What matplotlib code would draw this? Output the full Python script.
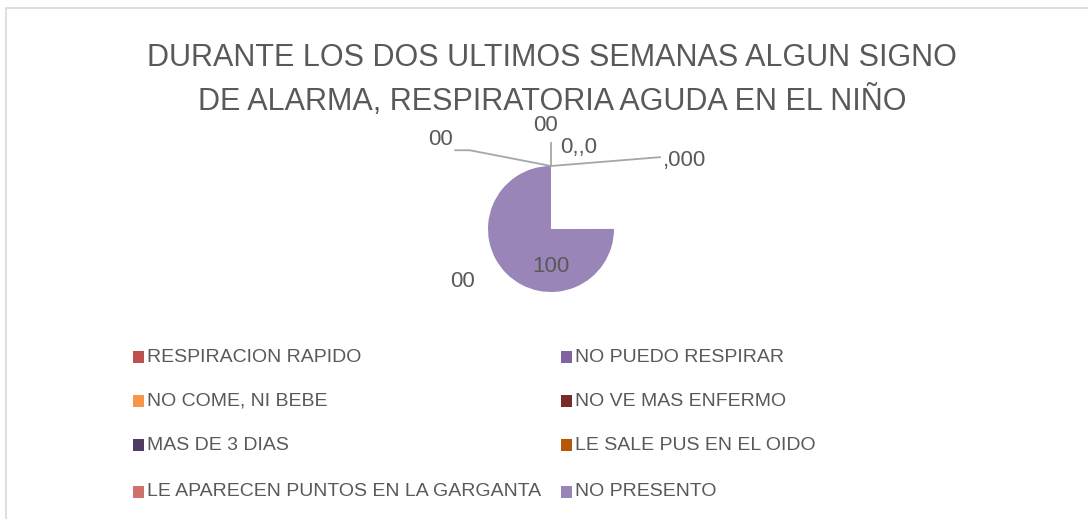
import matplotlib.pyplot as plt
from matplotlib.patches import Rectangle

# datos del grafico
categorias = ['RESPIRACION RAPIDO', 'NO PUEDO RESPIRAR', 'NO COME, NI BEBE',
              'NO VE MAS ENFERMO', 'MAS DE 3 DIAS', 'LE SALE PUS EN EL OIDO',
              'LE APARECEN PUNTOS EN LA GARGANTA', 'NO PRESENTO']
valores = [0, 0, 0, 0, 0, 0, 0, 100]
colores = ['#C0504D', '#8064A2', '#F79646', '#772C2A', '#4D3B62', '#B65708',
           '#D0716E', '#9A85B8']
hueco = 33.3  # parte sin relleno que deja Excel arriba a la derecha
etiquetas = ['00', '00', '0,,0', ',000', '00', '100']

gris = '#595959'
plt.rcParams['font.family'] = ['Liberation Sans', 'DejaVu Sans']

W, H = 1088, 519
fig = plt.figure(figsize=(W / 100, H / 100), dpi=100)
fig.patches.append(Rectangle((6 / W, -0.1), 1.2, (H - 8) / H + 0.1, transform=fig.transFigure,
                             fill=False, edgecolor='#D9D9D9', linewidth=1.2))

fig.text(552 / W, 1 - 58 / H, 'DURANTE LOS DOS ULTIMOS SEMANAS ALGUN SIGNO', ha='center', va='center',
         fontsize=22, color=gris)
fig.text(552 / W, 1 - 101 / H, 'DE ALARMA, RESPIRATORIA AGUDA EN EL NIÑO', ha='center', va='center',
         fontsize=22, color=gris)

# pie: centro (551,229) px, radio 63 px
r = 63
cx, cy = 551, 229
ax = fig.add_axes([(cx - 160) / W, (H - cy - 120) / H, 320 / W, 240 / H])

vals = valores[:7] + [hueco] + valores[7:]
cols = colores[:7] + ['none'] + colores[7:]
wedges, _ = ax.pie(vals, colors=cols, startangle=90, counterclock=False, radius=1,
                   wedgeprops=dict(linewidth=0))
ax.set_xlim(-160 / r, 160 / r)
ax.set_ylim(-120 / r, 120 / r)
ax.axis('off')

# lineas guia
lc = '#A6A6A6'
ax.plot([0, -1.29, -1.52], [1, 1.25, 1.25], color=lc, lw=1.3)
ax.plot([0, 0], [1, 1.37], color=lc, lw=1.3)
ax.plot([0, 1.73], [1, 1.14], color=lc, lw=1.3)

pos = [(-1.76, 1.42), (-0.08, 1.64), (0.44, 1.30), (2.12, 1.09), (-1.40, -0.83), (0.0, -0.59)]
for t, (x, y) in zip(etiquetas, pos):
    ax.text(x, y, t, ha='center', va='center', fontsize=16, color=gris)

# leyenda (dos columnas, por filas)
col_x = [133, 561]
fila_y = [357, 401, 445, 492]
for i, (nombre, c) in enumerate(zip(categorias, colores)):
    x = col_x[i % 2]
    y = fila_y[i // 2]
    fig.patches.append(Rectangle((x / W, 1 - (y + 6) / H), 11 / W, 12 / H,
                                 transform=fig.transFigure, facecolor=c, edgecolor='none'))
    fig.text((x + 14) / W, 1 - y / H, nombre, ha='left', va='center', fontsize=14, color=gris)

fig.savefig('out.png', dpi=100)
